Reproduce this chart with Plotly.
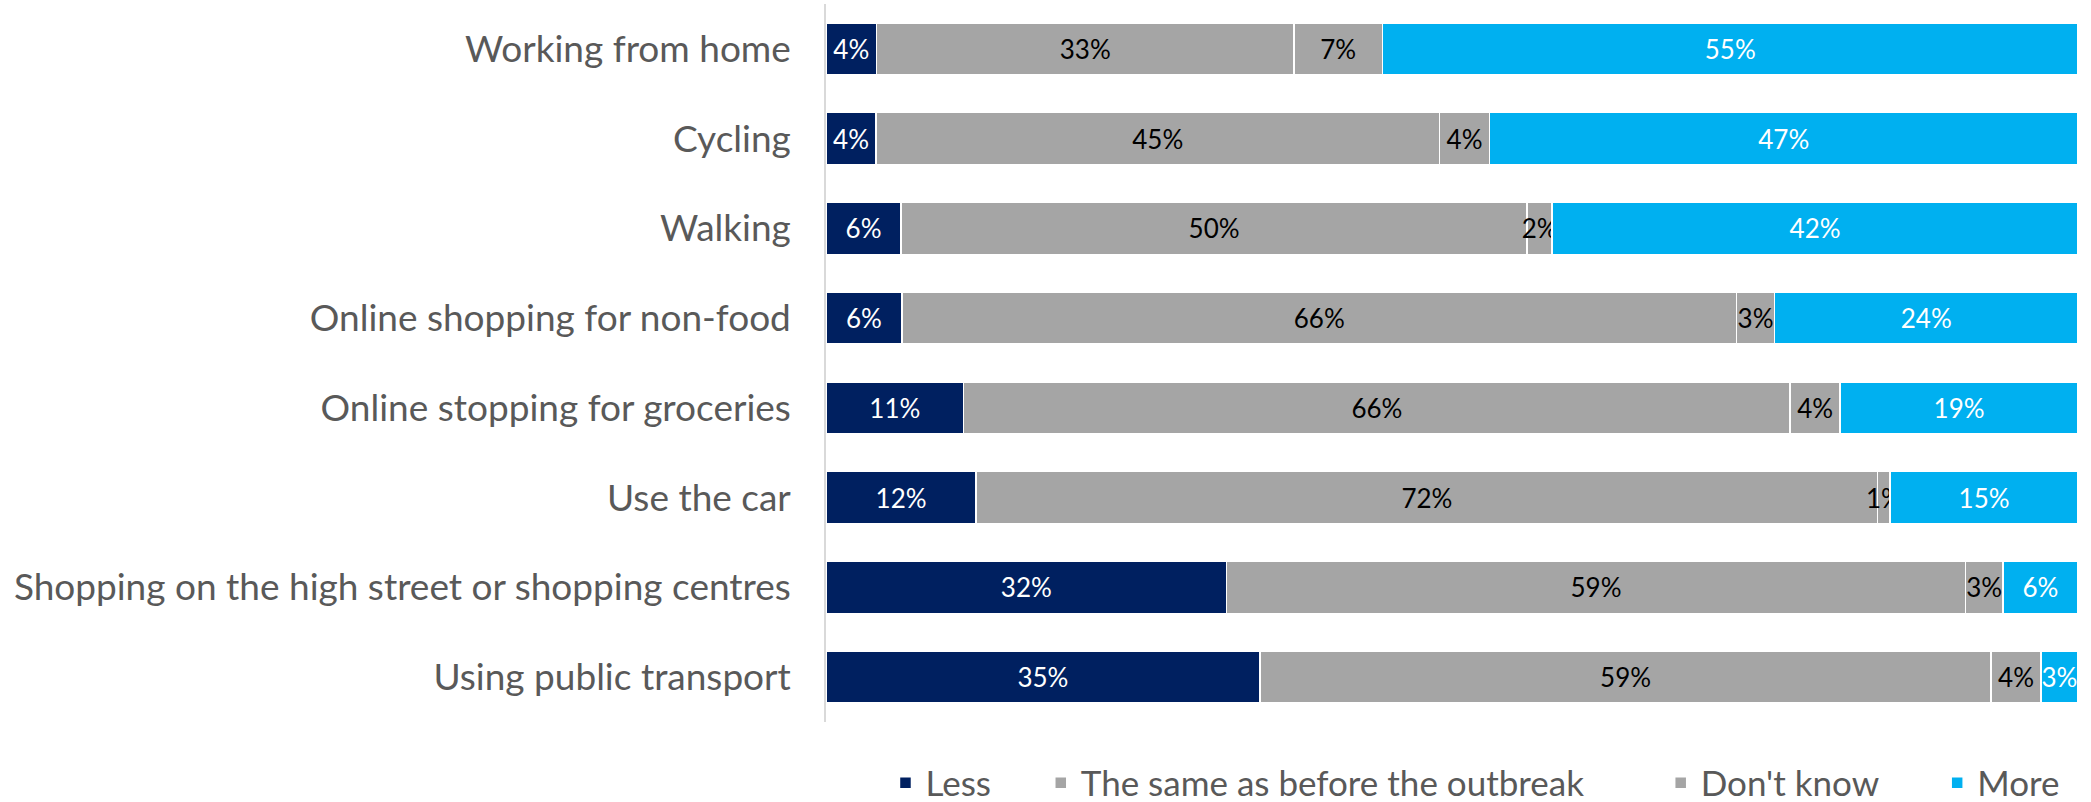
import plotly.graph_objects as go

# Survey answers, listed top to bottom
categories = [
    "Working from home",
    "Cycling",
    "Walking",
    "Online shopping for non-food",
    "Online stopping for groceries",
    "Use the car",
    "Shopping on the high street or shopping centres",
    "Using public transport",
]

less = [4, 4, 6, 6, 11, 12, 32, 35]
same = [33, 45, 50, 66, 66, 72, 59, 59]
dont_know = [7, 4, 2, 3, 4, 1, 3, 4]
more = [55, 47, 42, 24, 19, 15, 6, 3]

series_names = ["Less", "The same as before the outbreak", "Don't know", "More"]
series_values = [less, same, dont_know, more]
series_colors = ["#002060", "#A5A5A5", "#A5A5A5", "#00B0F0"]
text_colors = ["#FFFFFF", "#000000", "#000000", "#FFFFFF"]
# trailing non-breaking spaces that separate the legend entries
legend_pads = [5, 8, 6, 0]

label_font = "Lato, 'Noto Sans', sans-serif"
value_font = "Lato, 'Noto Sans', sans-serif"

fig = go.Figure()
for name, vals, col, tcol, pad in zip(series_names, series_values, series_colors, text_colors, legend_pads):
    fig.add_trace(go.Bar(
        name=name + "\u00a0" * pad,
        y=categories,
        x=vals,
        orientation="h",
        marker=dict(color=col, line=dict(color="#FFFFFF", width=1.5)),
        text=[f"{v}%" for v in vals],
        textposition="inside",
        insidetextanchor="middle",
        textangle=0,
        constraintext="none",
        textfont=dict(family=value_font, size=26, color=tcol),
        hoverinfo="skip",
    ))

fig.update_layout(
    barmode="stack",
    barnorm="percent",
    bargap=0.42,
    width=2091,
    height=802,
    margin=dict(l=826, r=13, t=4, b=80, autoexpand=False),
    paper_bgcolor="#FFFFFF",
    plot_bgcolor="#FFFFFF",
    showlegend=True,
    legend=dict(
        orientation="h",
        x=0.99,
        xanchor="right",
        y=-0.085,
        yanchor="middle",
        font=dict(family=label_font, size=35, color="#595959"),
        traceorder="normal",
        itemwidth=30,
    ),
    xaxis=dict(
        range=[0, 100],
        showticklabels=False,
        showgrid=False,
        zeroline=False,
        showline=False,
        fixedrange=True,
    ),
    yaxis=dict(
        categoryorder="array",
        categoryarray=categories[::-1],
        showgrid=False,
        zeroline=False,
        showline=True,
        linecolor="#D9D9D9",
        linewidth=1.5,
        ticks="outside",
        ticklen=26,
        tickcolor="rgba(0,0,0,0)",
        tickfont=dict(family=label_font, size=37, color="#595959"),
        fixedrange=True,
    ),
)

fig.write_html("out.html")
